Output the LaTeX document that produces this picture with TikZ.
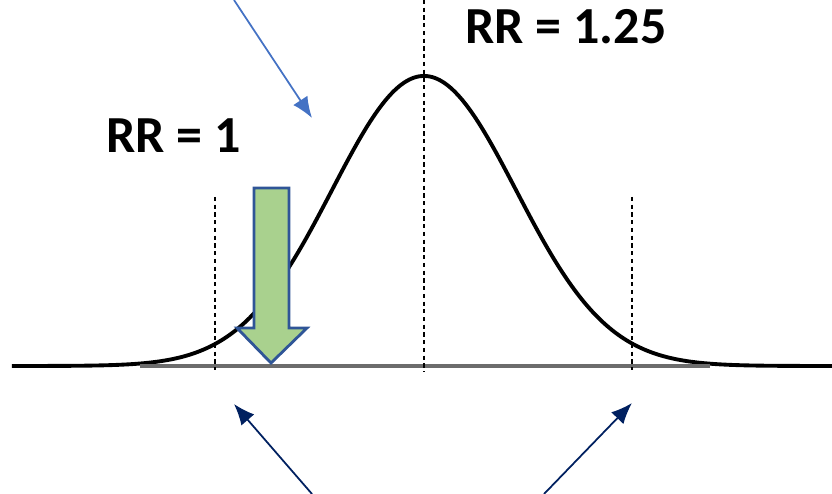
\documentclass[tikz,border=0pt]{standalone}
\usepackage{fontspec}
\setsansfont{Carlito}
\usetikzlibrary{arrows.meta}
\definecolor{myblue}{HTML}{4472C4}
\definecolor{mynavy}{HTML}{002060}
\definecolor{mygreen}{HTML}{A9D18E}
\definecolor{myborder}{HTML}{2F5597}
\tikzset{
	rrtext/.style={font=\sffamily\bfseries\fontsize{14.8}{16}\selectfont, inner sep=0pt}
}
\tikzset{
	guideline/.style={dash pattern=on 1.2pt off 1pt, line width=0.45pt}
}
\tikzset{
	pointer/.style={line width=0.5pt, -{Latex[length=2.1mm,width=1.7mm]}}
}
\begin{document}
\begin{tikzpicture}
\useasboundingbox (0,0) rectangle (8.32,4.94);

\coordinate (gL) at (2.15,2.97);
\coordinate (gLb) at (2.15,1.24);
\coordinate (gM) at (4.24,4.94);
\coordinate (gMb) at (4.24,1.22);
\coordinate (gR) at (6.32,2.97);
\coordinate (gRb) at (6.32,1.24);

\draw[line width=1.1pt, smooth, samples=160, domain=0.12:8.32]
	plot (\x, {1.28+2.90*exp(-((\x-4.24)/0.92)^2/2)});
\draw[line width=1.1pt, gray!85!black] (1.40,1.28) -- (7.10,1.28);

\draw[guideline] (gL) -- (gLb);
\draw[guideline] (gM) -- (gMb);
\draw[guideline] (gR) -- (gRb);

\draw[line width=0.8pt, draw=myborder, fill=mygreen, line join=miter]
	(2.54,3.06) -- (2.89,3.06) -- (2.89,1.66) -- (3.07,1.66) --
	(2.71,1.31) -- (2.37,1.66) -- (2.54,1.66) -- cycle;

\node[rrtext] (rrone) at (1.735,3.58) {RR = 1};
\node[rrtext] (rrtwo) at (5.66,4.67) {RR = 1.25};

\coordinate (bS) at (2.34,4.94);
\coordinate (bE) at (3.12,3.76);
\draw[pointer, myblue] (bS) -- (bE);

\coordinate (nLS) at (3.12,0);
\coordinate (nLE) at (2.34,0.90);
\coordinate (nRS) at (5.44,0);
\coordinate (nRE) at (6.32,0.91);
\draw[pointer, mynavy] (nLS) -- (nLE);
\draw[pointer, mynavy] (nRS) -- (nRE);

\end{tikzpicture}
\end{document}
